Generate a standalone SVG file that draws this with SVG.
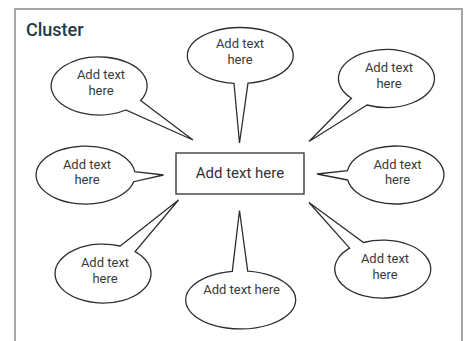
<svg xmlns="http://www.w3.org/2000/svg" width="464" height="341" viewBox="0 0 464 341">
<style>
.bub{fill:#fff;stroke:#2e2e2e;stroke-width:1.3;stroke-linejoin:miter}
.t{font-family:Roboto,"Liberation Sans",sans-serif;font-size:13px;fill:#3a3a3a;text-anchor:middle}
.c{font-family:Roboto,"Liberation Sans",sans-serif;font-size:15px;fill:#333;text-anchor:middle}
</style>
<rect x="0" y="0" width="464" height="341" fill="#fff"/>
<path d="M15 345 V9 H462 V345" fill="none" stroke="#a6a6a6" stroke-width="2"/>
<text x="26" y="36" font-family="Roboto,'Liberation Sans',sans-serif" font-size="18" font-weight="500" fill="#1e3a48">Cluster</text>
<g id="connectors"></g>
<g id="center">
<rect x="176" y="153" width="128" height="41" fill="#fff" stroke="#2e2e2e" stroke-width="1.3"/>
<text class="c" x="240" y="178">Add text here</text>
</g>
<g id="bubble-top-left">
<path class="bub" d="M140.6 100.5 L193 140 L125.8 110 A48 29 0 1 1 140.6 100.5 Z"/>
<text class="t" x="101" y="79">Add text</text><text class="t" x="101" y="94.5">here</text>
</g>
<g id="bubble-top">
<path class="bub" d="M248 83.2 L239.5 143 L234 83.3 A53 28 0 1 1 248 83.2 Z"/>
<text class="t" x="240" y="48">Add text</text><text class="t" x="240" y="64">here</text>
</g>
<g id="bubble-top-right">
<path class="bub" d="M367 105 L309 141.5 L351.4 98.3 A48 29 0 1 1 367 105 Z"/>
<text class="t" x="389" y="71.5">Add text</text><text class="t" x="389" y="87.5">here</text>
</g>
<g id="bubble-left">
<path class="bub" d="M134.7 171.7 L163.5 175 L133.7 181.7 A49.5 29 0 1 1 134.7 171.7 Z"/>
<text class="t" x="87" y="168.5">Add text</text><text class="t" x="87" y="184">here</text>
</g>
<g id="bubble-right">
<path class="bub" d="M347.7 180 L317 174 L347.5 170.7 A48.5 29 0 1 1 347.7 180 Z"/>
<text class="t" x="397.5" y="168.5">Add text</text><text class="t" x="397.5" y="184">here</text>
</g>
<g id="bubble-bottom-left">
<path class="bub" d="M120.2 246 L178.5 200 L135.1 251.6 A48 29.5 0 1 1 120.2 246 Z"/>
<text class="t" x="105" y="266.5">Add text</text><text class="t" x="105" y="282.5">here</text>
</g>
<g id="bubble-bottom">
<path class="bub" d="M232.3 271.3 L239.5 210.5 L247.7 271.2 A55 29 0 1 1 232.3 271.3 Z"/>
<text class="t" x="241.5" y="293.5">Add text here</text>
</g>
<g id="bubble-bottom-right">
<path class="bub" d="M349.6 248.1 L309 202.5 L363.5 242.5 A48 29 0 1 1 349.6 248.1 Z"/>
<text class="t" x="385" y="262.5">Add text</text><text class="t" x="385" y="278.5">here</text>
</g>
</svg>
